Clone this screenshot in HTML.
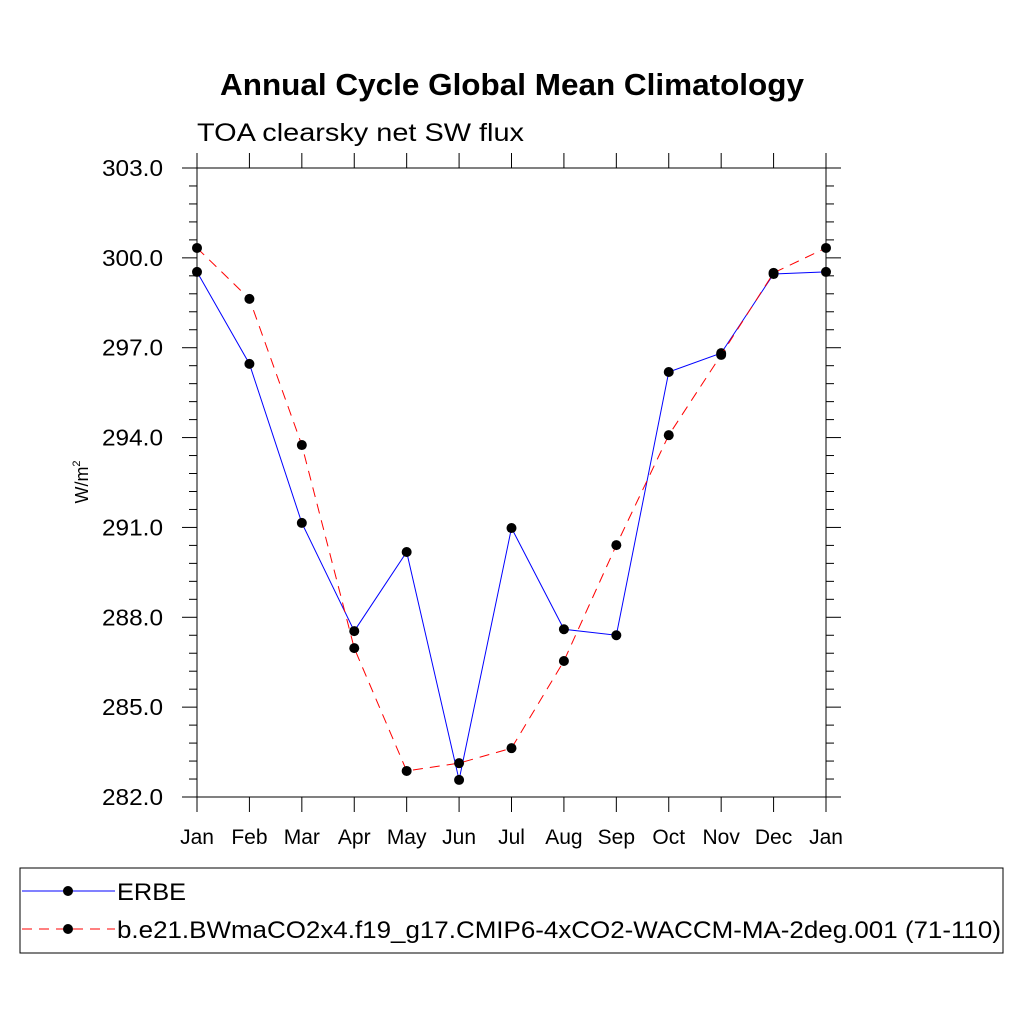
<!DOCTYPE html>
<html><head><meta charset="utf-8"><style>
html,body{margin:0;padding:0;background:#fff;}
svg text{font-family:"Liberation Sans",sans-serif;}
</style></head><body>
<svg width="1024" height="1024" viewBox="0 0 1024 1024" id="svg">
<rect width="1024" height="1024" fill="#fff"/>
<text x="220" y="95" font-size="31" font-weight="bold" textLength="584" lengthAdjust="spacingAndGlyphs">Annual Cycle Global Mean Climatology</text>
<text x="197" y="141" font-size="25" textLength="327" lengthAdjust="spacingAndGlyphs">TOA clearsky net SW flux</text>
<text transform="translate(88,482) rotate(-90)" text-anchor="middle" font-size="18">W/m<tspan font-size="11" dy="-8">2</tspan></text>
<g id="axes"></g>
<g id="series"></g>
<rect x="20" y="868" width="983" height="85" fill="none" stroke="#000" stroke-width="1"/>
<g>
<line x1="22" y1="891" x2="115" y2="891" stroke="#00f" stroke-width="1"/>
<circle cx="68" cy="891" r="5" fill="#000"/>
<text x="117" y="900" font-size="24" textLength="69" lengthAdjust="spacingAndGlyphs">ERBE</text>
</g>
<g>
<line x1="22" y1="929" x2="115" y2="929" stroke="#f00" stroke-width="1" stroke-dasharray="10,7"/>
<circle cx="68" cy="929" r="5" fill="#000"/>
<text x="117" y="938" font-size="24" textLength="884" lengthAdjust="spacingAndGlyphs">b.e21.BWmaCO2x4.f19_g17.CMIP6-4xCO2-WACCM-MA-2deg.001 (71-110)</text>
</g>
</svg>
<script>
const months = ["Jan","Feb","Mar","Apr","May","Jun","Jul","Aug","Sep","Oct","Nov","Dec","Jan"];
const erbe = [299.53,296.46,291.15,287.54,290.18,282.57,290.98,287.6,287.4,296.19,296.82,299.46,299.53];
const model = [300.33,298.63,293.75,286.97,282.87,283.13,283.63,286.54,290.41,294.08,296.76,299.5,300.33];
const yTicks = [282,285,288,291,294,297,300,303];
const yMin = 282, yMax = 303;
const L=197,R=826,T=168,B=797;
const NS="http://www.w3.org/2000/svg";
function x(i){return L+(R-L)*i/(months.length-1);}
function y(v){return B-(v-yMin)/(yMax-yMin)*(B-T);}
function mk(tag,attrs,parent){const e=document.createElementNS(NS,tag);for(const k in attrs)e.setAttribute(k,attrs[k]);parent.appendChild(e);return e;}
const ax=document.getElementById('axes');
const frame=mk('rect',{x:L,y:T,width:R-L,height:B-T,fill:'none',stroke:'#000','stroke-width':1},ax);


for(let v=yMin;v<=yMax+0.001;v+=0.6){
  const major=Math.abs((v-yMin)/3-Math.round((v-yMin)/3))<0.01;
  const len=major?15:8;
  mk('line',{x1:L-len,y1:y(v),x2:L,y2:y(v),stroke:'#000'},ax);
  mk('line',{x1:R,y1:y(v),x2:R+len,y2:y(v),stroke:'#000'},ax);
}
yTicks.forEach(v=>{
  const t=mk('text',{x:163,y:y(v)+8,'text-anchor':'end','font-size':23,textLength:61,lengthAdjust:'spacingAndGlyphs'},ax);
  t.textContent=v.toFixed(1);
  
  
});
months.forEach((m,i)=>{
  mk('line',{x1:x(i),y1:B,x2:x(i),y2:B+15,stroke:'#000'},ax);
  mk('line',{x1:x(i),y1:T-15,x2:x(i),y2:T,stroke:'#000'},ax);
  const t=mk('text',{x:x(i),y:B+47,'text-anchor':'middle','font-size':21},ax);
  t.textContent=m;
  
  
});
const sg=document.getElementById('series');
function draw(vals,color,dash,name){
  const g=mk('g',{},sg);
  
  
  const p=mk('polyline',{points:vals.map((v,i)=>x(i)+','+y(v)).join(' '),fill:'none',stroke:color,'stroke-width':1},g);
  if(dash)p.setAttribute('stroke-dasharray',dash);
  
  
  vals.forEach((v,i)=>{
    const c=mk('circle',{cx:x(i),cy:y(v),r:5,fill:'#000'},g);
    
    
  });
}
draw(erbe,'#00f',null,'erbe-series');
draw(model,'#f00','10,7','model-series');
</script>
</body></html>
